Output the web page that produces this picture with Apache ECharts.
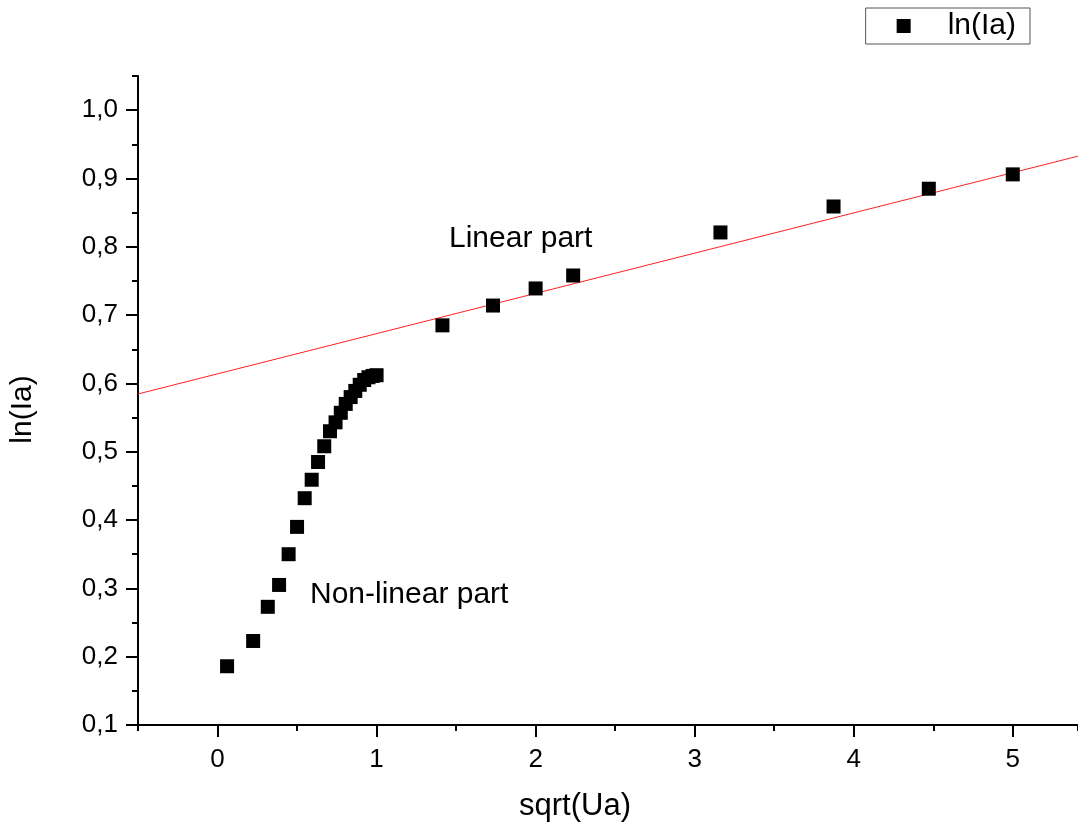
<!DOCTYPE html>
<html>
<head>
<meta charset="utf-8">
<script src="https://cdn.jsdelivr.net/npm/echarts@6/dist/echarts.min.js"></script>
<style>
html,body{margin:0;padding:0;background:#fff;}
#chart{width:1078px;height:827px;}
</style>
</head>
<body>
<div id="chart"></div>
<script>
// sqrt(Ua) values
const xValues = [0.06, 0.224, 0.316, 0.387, 0.447, 0.5, 0.548, 0.592, 0.632, 0.671,
                 0.707, 0.742, 0.775, 0.806, 0.837, 0.866, 0.894, 0.922, 0.949, 0.975, 1.0,
                 1.414, 1.732, 2.0, 2.236, 3.162, 3.873, 4.472, 5.0];
// ln(Ia) values
const yValues = [0.186, 0.223, 0.273, 0.305, 0.350, 0.390, 0.432, 0.459, 0.485, 0.508,
                 0.530, 0.543, 0.557, 0.570, 0.580, 0.589, 0.598, 0.605, 0.609, 0.611,
                 0.612,
                 0.685, 0.714, 0.739, 0.758, 0.821, 0.859, 0.885, 0.906];
// linear fit of the linear part
const fitIntercept = 0.614;
const fitSlope = 0.0589;
const xRange = [-0.5, 5.41];
const yRange = [0.1, 1.05];
const annotations = ['Linear part', 'Non-linear part'];
</script>
<script>
const points = xValues.map((x, i) => [x, yValues[i]]);
const fitData = xRange.map(x => [x, fitIntercept + fitSlope * x]);
const FONT = 'Liberation Sans, Arial, sans-serif';
const chart = echarts.init(document.getElementById('chart'));
const fmtY = v => v.toFixed(1).replace('.', ',');
chart.setOption({
  backgroundColor: '#fff',
  animation: false,
  textStyle: {fontFamily: FONT},
  grid: {left: 138, right: 0, top: 76, bottom: 97, containLabel: false},
  legend: {
    data: [{name: 'ln(Ia)', icon: 'rect'}],
    right: 48, top: 8,
    itemWidth: 14, itemHeight: 14,
    padding: [3, 14, 3, 31],
    borderColor: '#555', borderWidth: 1, borderRadius: 0,
    textStyle: {fontSize: 30, color: '#000', fontFamily: FONT, padding: [0, 0, 0, 32]}
  },
  xAxis: [{
    type: 'value', min: xRange[0], max: xRange[1], position: 'bottom',
    name: 'sqrt(Ua)', nameLocation: 'middle', nameGap: 66,
    nameTextStyle: {fontSize: 31, color: '#000', fontFamily: FONT, padding: [0, 66, 0, 0]},
    axisLine: {show: true, onZero: false, lineStyle: {color: '#000', width: 2}},
    axisTick: {show: true, inside: false, length: 12, lineStyle: {color: '#000', width: 2}},
    axisLabel: {fontSize: 26, color: '#000', margin: 22, showMinLabel: false, showMaxLabel: false, fontFamily: FONT},
    splitLine: {show: false}
  }, {
    type: 'value', min: xRange[0], max: xRange[1], interval: 0.5, position: 'bottom',
    axisLine: {show: false, onZero: false},
    axisTick: {show: true, inside: false, length: 6, lineStyle: {color: '#000', width: 2}},
    axisLabel: {show: false},
    splitLine: {show: false}
  }],
  yAxis: [{
    type: 'value', min: yRange[0], max: yRange[1], interval: 0.1, position: 'left',
    name: 'ln(Ia)', nameLocation: 'middle', nameGap: 100,
    nameTextStyle: {fontSize: 30, color: '#000', fontFamily: FONT, padding: [0, 18, 0, 0]},
    axisLine: {show: true, onZero: false, lineStyle: {color: '#000', width: 2}},
    axisTick: {show: true, inside: false, length: 12, lineStyle: {color: '#000', width: 2}},
    axisLabel: {fontSize: 26, color: '#000', margin: 20, formatter: fmtY, showMaxLabel: false, fontFamily: FONT},
    splitLine: {show: false}
  }, {
    type: 'value', min: yRange[0], max: yRange[1], interval: 0.05, position: 'left',
    axisLine: {show: false, onZero: false},
    axisTick: {show: true, inside: false, length: 6, lineStyle: {color: '#000', width: 2}},
    axisLabel: {show: false},
    splitLine: {show: false}
  }],
  graphic: [
    {type: 'text', left: 449, top: 224, style: {text: annotations[0], fontSize: 30, fill: '#000', fontFamily: FONT}},
    {type: 'text', left: 310, top: 580, style: {text: annotations[1], fontSize: 30, fill: '#000', fontFamily: FONT}}
  ],
  series: [{
    name: 'fit', type: 'line', data: fitData, showSymbol: false, symbol: 'none',
    lineStyle: {color: '#ff2020', width: 1}, z: 1, clip: true, silent: true
  }, {
    name: 'ln(Ia)', type: 'scatter', data: points, symbol: 'rect', symbolSize: 14,
    itemStyle: {color: '#000', opacity: 1}, z: 3
  }]
});
</script>
</body>
</html>
